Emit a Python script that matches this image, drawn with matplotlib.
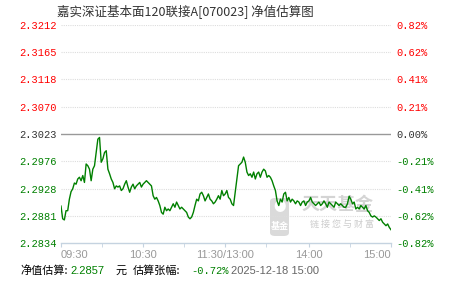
import matplotlib
matplotlib.use("Agg")
import matplotlib.pyplot as plt
from matplotlib.patches import FancyBboxPatch
import numpy as np

plt.rcParams['font.family'] = ['Noto Sans CJK SC', 'DejaVu Sans']

title = "嘉实深证基本面120联接A[070023] 净值估算图"
base = 2.3023
ytick_vals = [2.3212, 2.3165, 2.3118, 2.3070, 2.3023, 2.2976, 2.2928, 2.2881, 2.2834]
pct_labels = ["0.82%", "0.62%", "0.41%", "0.21%", "0.00%", "-0.21%", "-0.41%", "-0.62%", "-0.82%"]
time_labels = ["09:30", "10:30", "11:30/13:00", "14:00", "15:00"]
time_pos = [0, 60, 120, 181, 241]
minor_pos = [0, 30, 60, 90, 120, 150, 181, 211, 241]

# estimated NAV (intraday, 09:30 -> 15:00)
nav = [2.2898, 2.2876, 2.2874, 2.2890, 2.2890, 2.2910, 2.2923, 2.2928, 2.2938, 2.2936,
       2.2945, 2.2948, 2.2942, 2.2951, 2.2939, 2.2971, 2.2968, 2.2962, 2.2942, 2.2962,
       2.2968, 2.2991, 2.3014, 2.3017, 2.2974, 2.2980, 2.2991, 2.2994, 2.2962, 2.2954,
       2.2945, 2.2939, 2.2928, 2.2933, 2.2931, 2.2933, 2.2925, 2.2928, 2.2936, 2.2942,
       2.2931, 2.2922, 2.2931, 2.2936, 2.2928, 2.2933, 2.2936, 2.2939, 2.2931, 2.2936,
       2.2939, 2.2942, 2.2939, 2.2936, 2.2933, 2.2916, 2.2910, 2.2913, 2.2907, 2.2899,
       2.2887, 2.2884, 2.2896, 2.2890, 2.2893, 2.2890, 2.2896, 2.2902, 2.2896, 2.2905,
       2.2899, 2.2893, 2.2896, 2.2893, 2.2890, 2.2887, 2.2879, 2.2876, 2.2879, 2.2887,
       2.2899, 2.2910, 2.2907, 2.2919, 2.2922, 2.2916, 2.2907, 2.2913, 2.2919, 2.2910,
       2.2907, 2.2902, 2.2905, 2.2910, 2.2916, 2.2910, 2.2925, 2.2916, 2.2919, 2.2925,
       2.2913, 2.2910, 2.2902, 2.2899, 2.2922, 2.2945, 2.2968, 2.2971, 2.2974, 2.2983,
       2.2974, 2.2957, 2.2951, 2.2954, 2.2948, 2.2957, 2.2945, 2.2954, 2.2957, 2.2948,
       2.2957, 2.2962, 2.2959, 2.2948, 2.2951, 2.2948, 2.2942, 2.2933, 2.2925, 2.2907,
       2.2899, 2.2910, 2.2905, 2.2919, 2.2922, 2.2907, 2.2913, 2.2905, 2.2910, 2.2907,
       2.2902, 2.2907, 2.2905, 2.2899, 2.2905, 2.2907, 2.2899, 2.2905, 2.2907, 2.2913,
       2.2905, 2.2902, 2.2899, 2.2902, 2.2905, 2.2899, 2.2902, 2.2907, 2.2902, 2.2896,
       2.2905, 2.2902, 2.2899, 2.2896, 2.2905, 2.2902, 2.2899, 2.2902, 2.2899, 2.2896,
       2.2896, 2.2902, 2.2915, 2.2910, 2.2902, 2.2905, 2.2893, 2.2896, 2.2893, 2.2899,
       2.2896, 2.2893, 2.2899, 2.2890, 2.2887, 2.2881, 2.2879, 2.2881, 2.2879, 2.2876,
       2.2873, 2.2876, 2.2870, 2.2867, 2.2864, 2.2867, 2.2861, 2.2857]

last_nav = "2.2857"
last_pct = "-0.72%"
stamp = "2025-12-18 15:00"

RED = "#ff0000"
GREEN = "#008000"
DARK = "#333333"
mono = "Liberation Mono"

fig = plt.figure(figsize=(4.51, 2.81), dpi=100)
ax = fig.add_axes([61/451, 1 - 243/281, 330/451, 218/281])

x = np.linspace(0, 241, len(nav))
ax.plot(x, nav, color=GREEN, lw=1.0, zorder=3)

ax.set_xlim(0, 241)
ax.set_ylim(ytick_vals[-1], ytick_vals[0])

for v in ytick_vals[:-1]:
    if v == base:
        ax.axhline(v, color="#999999", lw=1.0, zorder=1)
    else:
        ax.axhline(v, color="#dddddd", lw=0.8, ls=(0, (1, 1)), zorder=1)

for s in ["top", "right", "left"]:
    ax.spines[s].set_visible(False)
ax.spines["bottom"].set_color("#c5d3e0")
ax.spines["bottom"].set_linewidth(1.0)

ax.set_xticks(minor_pos, minor=True)
ax.set_xticks(time_pos)
ax.set_xticklabels(time_labels, fontsize=8, color="#999999", family="Liberation Sans")
xl = ax.get_xticklabels()
xl[0].set_ha("left")
xl[-1].set_ha("right")
ax.tick_params(axis="x", which="both", direction="out", length=3, color="#c5d3e0", pad=2)

ax.set_yticks(ytick_vals)
ax.set_yticklabels([f"{v:.4f}" for v in ytick_vals], fontsize=7.5, family=mono)
ax.tick_params(axis="y", length=0, pad=3)

ax2 = ax.twinx()
ax2.set_ylim(ax.get_ylim())
ax2.set_yticks(ytick_vals)
ax2.set_yticklabels(pct_labels, fontsize=7.5, family=mono)
ax2.tick_params(axis="y", length=0, pad=4)
for s in ax2.spines.values():
    s.set_visible(False)

for lab_l, lab_r, v in zip(ax.get_yticklabels(), ax2.get_yticklabels(), ytick_vals):
    c = RED if v > base else (DARK if v == base else GREEN)
    lab_l.set_color(c)
    lab_r.set_color(c)

# watermark, behind the line
ax.add_patch(FancyBboxPatch((270/451, 1 - 236/281), 19/451, 38/281,
                            boxstyle="round,pad=0,rounding_size=0.012",
                            transform=fig.transFigure, fc="#dadada", ec="none", zorder=0.5))
ax.text(279.5/451, 1 - 208/281, "●", fontsize=9, color="white", ha="center", va="center",
        transform=fig.transFigure, zorder=0.6)
ax.text(279.5/451, 1 - 227/281, "基金", fontsize=6.5, color="white", ha="center", va="center",
        weight="bold", transform=fig.transFigure, zorder=0.6)
ax.text(338/451, 1 - 205/281, "天天基金", fontsize=13, color="#d4d4d4", ha="center", va="center",
        weight="bold", transform=fig.transFigure, zorder=0.5)
ax.text(342/451, 1 - 224/281, "链 接 您 与 财 富", fontsize=6.5, color="#cccccc", ha="center", va="center",
        transform=fig.transFigure, zorder=0.5)

fig.text(57/451, 1 - 12/281, title, fontsize=9, color=DARK, ha="left", va="center")

yb = 1 - 271/281
fig.text(20/451, yb, "净值估算:", fontsize=8, color="black", va="center")
fig.text(70/451, yb, last_nav, fontsize=8, color=GREEN, va="center", family="Liberation Sans")
fig.text(115/451, yb, "元", fontsize=8, color="black", va="center")
fig.text(133/451, yb, "估算张幅:", fontsize=8, color="black", va="center")
fig.text(191/451, yb, last_pct, fontsize=7.5, color=GREEN, va="center", family=mono)
fig.text(231/451, yb, stamp, fontsize=8, color="#666666", va="center", family="Liberation Sans")

fig.savefig("out.png", dpi=100)
